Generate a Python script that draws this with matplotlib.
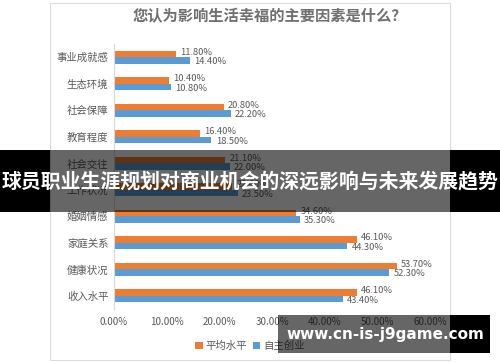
import matplotlib
matplotlib.use("Agg")
import matplotlib.pyplot as plt
import numpy as np
from matplotlib.patches import Rectangle
from matplotlib.ticker import FuncFormatter

plt.rcParams['font.family'] = ['Noto Sans CJK SC', 'DejaVu Sans']

# data, top to bottom as in the picture
categories = ['事业成就感', '生态环境', '社会保障', '教育程度', '社会交往',
              '工作状况', '婚姻情感', '家庭关系', '健康状况', '收入水平']
avg_level = [11.8, 10.4, 20.8, 16.4, 21.1, 22.4, 34.6, 46.1, 53.7, 46.1]
self_employed = [14.4, 10.8, 22.2, 18.5, 22.0, 23.5, 35.3, 44.3, 52.3, 43.4]
series_names = ['平均水平', '自主创业']
x_ticks = [0, 10, 20, 30, 40, 50, 60]

orange = '#ED7D31'
blue = '#5B9BD5'
grey = '#595959'

W, H = 500, 362
fig = plt.figure(figsize=(W / 100, H / 100), dpi=100)
fig.patch.set_facecolor('white')

# card frame
fig.patches.append(Rectangle((50 / W, 2 / H), 400 / W, 357 / H, transform=fig.transFigure,
                             facecolor='none', edgecolor='#dcdcdc', lw=0.8))

ax = fig.add_axes([114 / W, 1 - 309 / H, 316 / W, 265 / H])
y = np.arange(len(categories))
h = 0.25
ax.barh(y - h / 2, avg_level, height=h, color=orange, label=series_names[0])
ax.barh(y + h / 2, self_employed, height=h, color=blue, label=series_names[1])

for yi, a, b in zip(y, avg_level, self_employed):
    ax.text(a + 0.8, yi - h / 2 - 0.07, f'{a:.2f}%', fontsize=6.7, color=grey, va='center')
    ax.text(b + 0.8, yi + h / 2 + 0.05, f'{b:.2f}%', fontsize=6.7, color=grey, va='center')

ax.set_ylim(len(categories) - 0.5, -0.5)
ax.set_xlim(0, 60)
ax.set_yticks(y)
ax.set_yticklabels(categories, fontsize=7.5, color=grey)
ax.set_xticks(x_ticks)
ax.xaxis.set_major_formatter(FuncFormatter(lambda v, p: f'{v:.2f}%'))
ax.tick_params(axis='x', length=0, labelsize=7, labelcolor=grey, pad=6)
ax.tick_params(axis='y', length=0, pad=4)
for s in ['top', 'right', 'bottom']:
    ax.spines[s].set_visible(False)
ax.spines['left'].set_color('#d9d9d9')
ax.set_facecolor('none')

fig.text(270 / W, 1 - 16 / H, '您认为影响生活幸福的主要因素是什么？', ha='center', va='center',
         fontsize=11, color='#707070', fontweight='bold')

fig.legend(loc='center', bbox_to_anchor=(250 / W, 1 - 346 / H), ncol=2, frameon=False,
           fontsize=7.5, handlelength=0.7, handleheight=0.7, handletextpad=0.3,
           columnspacing=0.5, labelcolor=grey)

# overlay banner across the middle
for x0, x1, al in [(0, 50, 1.0), (50, 450, 0.6), (450, 500, 1.0)]:
    fig.patches.append(Rectangle((x0 / W, 1 - 212 / H), (x1 - x0) / W, 62 / H,
                                 transform=fig.transFigure, facecolor='black', alpha=al,
                                 edgecolor='none', zorder=10))
fig.text(0.5, 1 - 181 / H, '球员职业生涯规划对商业机会的深远影响与未来发展趋势', ha='center',
         va='center', fontsize=14.3, color='white', fontweight='bold', zorder=11)

# watermark box
for x0, x1, al in [(278, 450, 0.6), (450, 490, 1.0)]:
    fig.patches.append(Rectangle((x0 / W, 1 - 353 / H), (x1 - x0) / W, 38 / H,
                                 transform=fig.transFigure, facecolor='black', alpha=al,
                                 edgecolor='none', zorder=10))
fig.text(385 / W, 1 - 334 / H, 'www.cn-is-j9game.com', ha='center', va='center',
         fontsize=11, color='white', fontweight='bold', family='DejaVu Sans', zorder=11)

fig.savefig('out.png', dpi=100)
